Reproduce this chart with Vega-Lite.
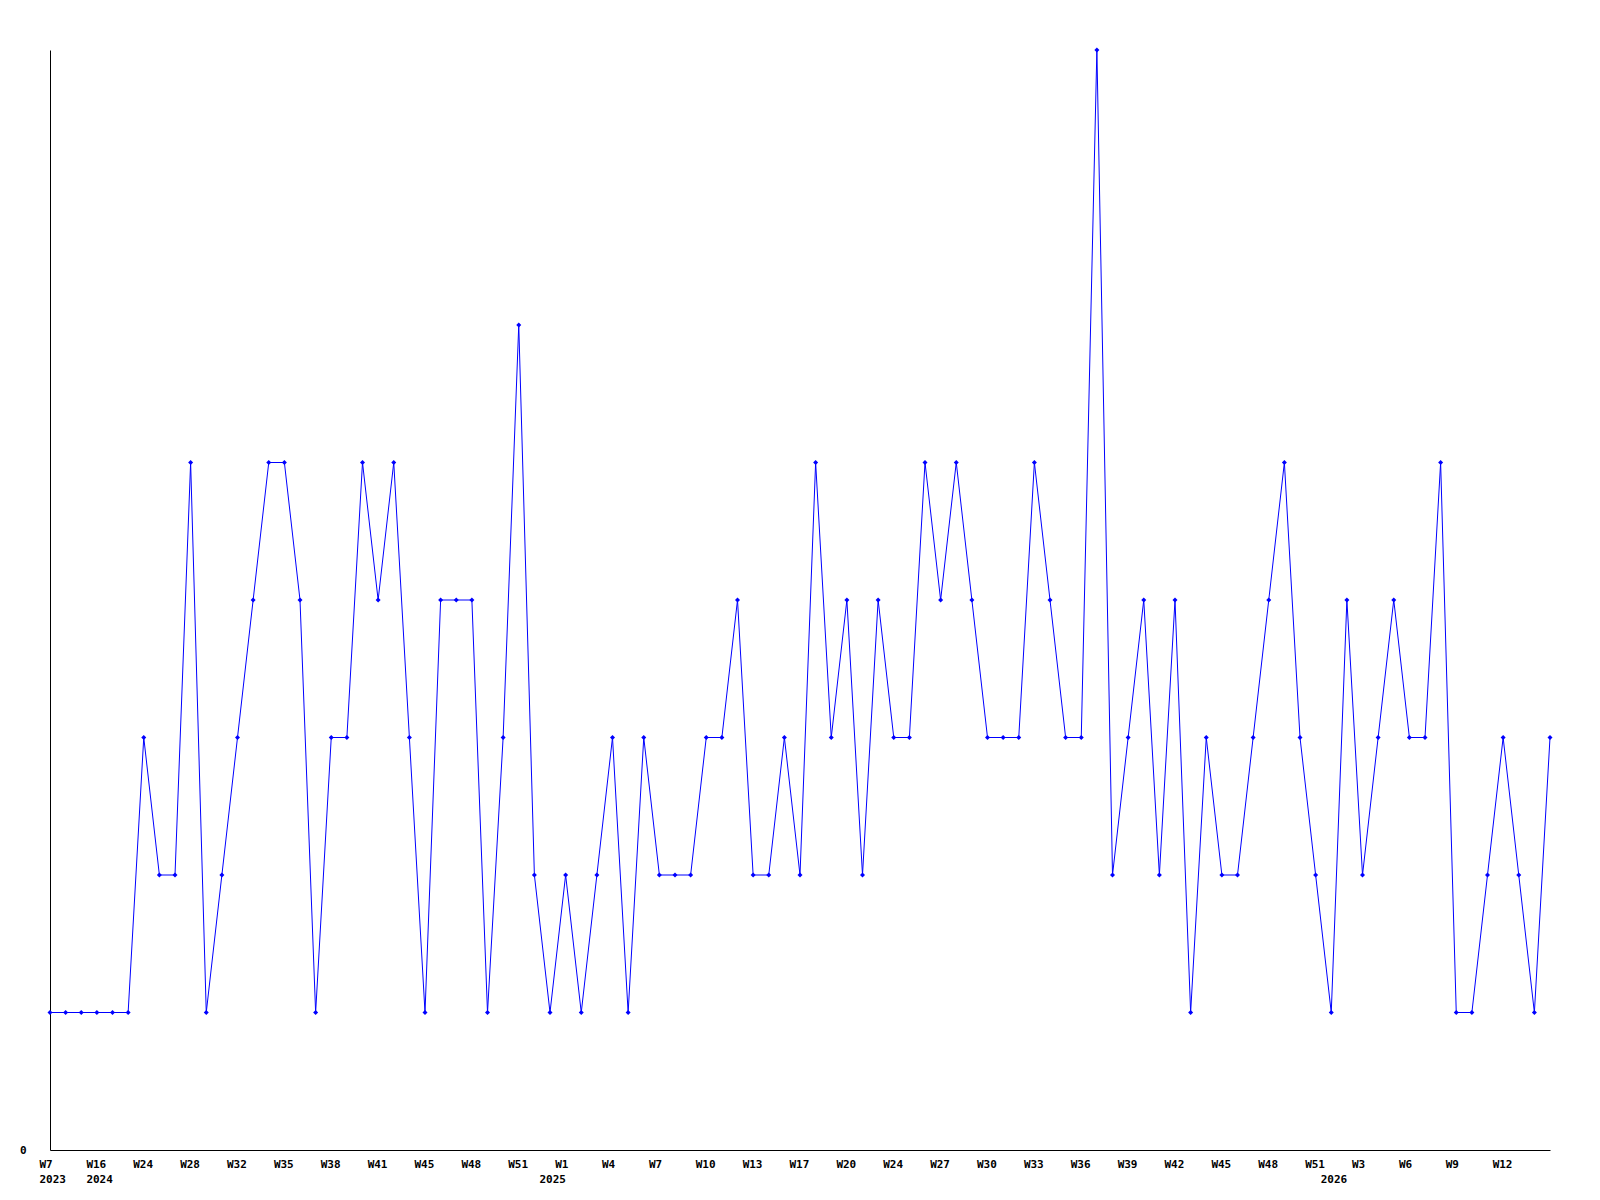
{
  "$schema": "https://vega.github.io/schema/vega-lite/v6.json",
  "width": 1500,
  "height": 1100,
  "autosize": {"type": "none"},
  "padding": {"left": 50, "top": 50, "right": 50, "bottom": 50},
  "background": "white",
  "config": {"view": {"stroke": null}},
  "data": {"values": [
    {"week": "2023-W07", "count": 1},
    {"week": "2023-W20", "count": 1},
    {"week": "2024-W05", "count": 1},
    {"week": "2024-W16", "count": 1},
    {"week": "2024-W19", "count": 1},
    {"week": "2024-W21", "count": 1},
    {"week": "2024-W24", "count": 3},
    {"week": "2024-W25", "count": 2},
    {"week": "2024-W27", "count": 2},
    {"week": "2024-W28", "count": 5},
    {"week": "2024-W29", "count": 1},
    {"week": "2024-W31", "count": 2},
    {"week": "2024-W32", "count": 3},
    {"week": "2024-W33", "count": 4},
    {"week": "2024-W34", "count": 5},
    {"week": "2024-W35", "count": 5},
    {"week": "2024-W36", "count": 4},
    {"week": "2024-W37", "count": 1},
    {"week": "2024-W38", "count": 3},
    {"week": "2024-W39", "count": 3},
    {"week": "2024-W40", "count": 5},
    {"week": "2024-W41", "count": 4},
    {"week": "2024-W42", "count": 5},
    {"week": "2024-W44", "count": 3},
    {"week": "2024-W45", "count": 1},
    {"week": "2024-W46", "count": 4},
    {"week": "2024-W47", "count": 4},
    {"week": "2024-W48", "count": 4},
    {"week": "2024-W49", "count": 1},
    {"week": "2024-W50", "count": 3},
    {"week": "2024-W51", "count": 6},
    {"week": "2024-W52", "count": 2},
    {"week": "2025-W00", "count": 1},
    {"week": "2025-W01", "count": 2},
    {"week": "2025-W02", "count": 1},
    {"week": "2025-W03", "count": 2},
    {"week": "2025-W04", "count": 3},
    {"week": "2025-W05", "count": 1},
    {"week": "2025-W06", "count": 3},
    {"week": "2025-W07", "count": 2},
    {"week": "2025-W08", "count": 2},
    {"week": "2025-W09", "count": 2},
    {"week": "2025-W10", "count": 3},
    {"week": "2025-W11", "count": 3},
    {"week": "2025-W12", "count": 4},
    {"week": "2025-W13", "count": 2},
    {"week": "2025-W15", "count": 2},
    {"week": "2025-W16", "count": 3},
    {"week": "2025-W17", "count": 2},
    {"week": "2025-W18", "count": 5},
    {"week": "2025-W19", "count": 3},
    {"week": "2025-W20", "count": 4},
    {"week": "2025-W21", "count": 2},
    {"week": "2025-W23", "count": 4},
    {"week": "2025-W24", "count": 3},
    {"week": "2025-W25", "count": 3},
    {"week": "2025-W26", "count": 5},
    {"week": "2025-W27", "count": 4},
    {"week": "2025-W28", "count": 5},
    {"week": "2025-W29", "count": 4},
    {"week": "2025-W30", "count": 3},
    {"week": "2025-W31", "count": 3},
    {"week": "2025-W32", "count": 3},
    {"week": "2025-W33", "count": 5},
    {"week": "2025-W34", "count": 4},
    {"week": "2025-W35", "count": 3},
    {"week": "2025-W36", "count": 3},
    {"week": "2025-W37", "count": 8},
    {"week": "2025-W38", "count": 2},
    {"week": "2025-W39", "count": 3},
    {"week": "2025-W40", "count": 4},
    {"week": "2025-W41", "count": 2},
    {"week": "2025-W42", "count": 4},
    {"week": "2025-W43", "count": 1},
    {"week": "2025-W44", "count": 3},
    {"week": "2025-W45", "count": 2},
    {"week": "2025-W46", "count": 2},
    {"week": "2025-W47", "count": 3},
    {"week": "2025-W48", "count": 4},
    {"week": "2025-W49", "count": 5},
    {"week": "2025-W50", "count": 3},
    {"week": "2025-W51", "count": 2},
    {"week": "2026-W00", "count": 1},
    {"week": "2026-W01", "count": 4},
    {"week": "2026-W03", "count": 2},
    {"week": "2026-W04", "count": 3},
    {"week": "2026-W05", "count": 4},
    {"week": "2026-W06", "count": 3},
    {"week": "2026-W07", "count": 3},
    {"week": "2026-W08", "count": 5},
    {"week": "2026-W09", "count": 1},
    {"week": "2026-W10", "count": 1},
    {"week": "2026-W11", "count": 2},
    {"week": "2026-W12", "count": 3},
    {"week": "2026-W13", "count": 2},
    {"week": "2026-W14", "count": 1},
    {"week": "2026-W15", "count": 3}
  ]},
  "encoding": {
    "x": {
      "field": "week",
      "type": "ordinal",
      "sort": null,
      "scale": {"type": "point", "padding": 0},
      "axis": {
        "title": null,
        "values": ["2023-W07","2024-W16","2024-W24","2024-W28","2024-W32","2024-W35","2024-W38","2024-W41","2024-W45","2024-W48","2024-W51","2025-W00","2025-W01","2025-W04","2025-W07","2025-W10","2025-W13","2025-W17","2025-W20","2025-W24","2025-W27","2025-W30","2025-W33","2025-W36","2025-W39","2025-W42","2025-W45","2025-W48","2025-W51","2026-W00","2026-W03","2026-W06","2026-W09","2026-W12"],
        "labelExpr": "slice(datum.value, 6) == '00' ? ['', slice(datum.value, 0, 4)] : (indexof(['2023-W07','2024-W16'], datum.value) >= 0 ? ['W' + toNumber(slice(datum.value, 6)), slice(datum.value, 0, 4)] : 'W' + toNumber(slice(datum.value, 6)))",
        "labelAngle": 0,
        "labelAlign": "left",
        "labelOffset": -11,
        "labelBaseline": "top",
        "labelPadding": 8,
        "labelFont": "DejaVu Sans Mono",
        "labelFontWeight": "bold",
        "labelFontSize": 11,
        "labelLineHeight": 15,
        "labelColor": "black",
        "labelOverlap": false,
        "labelBound": false,
        "labelFlush": false,
        "ticks": false,
        "domainColor": "black",
        "domainWidth": 1,
        "grid": false
      }
    },
    "y": {
      "field": "count",
      "type": "quantitative",
      "scale": {"domain": [0, 8], "nice": false, "zero": true},
      "axis": {
        "title": null,
        "values": [0],
        "ticks": false,
        "grid": false,
        "labelPadding": 24,
        "labelFont": "DejaVu Sans Mono",
        "labelFontWeight": "bold",
        "labelFontSize": 11,
        "labelColor": "black",
        "labelBaseline": "middle",
        "domainColor": "black",
        "domainWidth": 1
      }
    }
  },
  "layer": [
    {"mark": {"type": "line", "color": "#0000ff", "strokeWidth": 1}},
    {"mark": {"type": "point", "shape": "diamond", "filled": true, "color": "#0000ff", "size": 25, "opacity": 1}}
  ]
}
